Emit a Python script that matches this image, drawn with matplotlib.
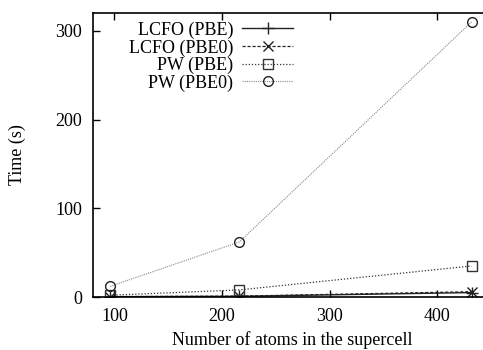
import matplotlib
matplotlib.use('Agg')
import matplotlib.pyplot as plt

plt.rcParams['font.family'] = ['Liberation Serif', 'DejaVu Serif']
plt.rcParams['font.size'] = 13

atoms = [96, 216, 432]
lcfo_pbe = [0.3, 0.8, 5]
lcfo_pbe0 = [0.5, 1.0, 6]
pw_pbe = [2, 8, 35]
pw_pbe0 = [12, 62, 310]

x_ticks = [100, 200, 300, 400]
y_ticks = [0, 100, 200, 300]

fig = plt.figure(figsize=(4.83, 3.5), dpi=100)
ax = fig.add_axes([0.1925, 0.1514, 0.824, 0.8114])

ax.plot(atoms, lcfo_pbe, color='#222222', lw=1.0, ls='-', marker='+', ms=8, mew=1.0,
        label='LCFO (PBE)')
ax.plot(atoms, lcfo_pbe0, color='#222222', lw=0.9, ls=(0, (2.5, 1.5)), marker='x', ms=7, mew=1.0,
        label='LCFO (PBE0)')
ax.plot(atoms, pw_pbe, color='#333333', lw=0.9, ls=(0, (1, 1.5)), marker='s', ms=7, mew=1.0,
        mfc='none', label='PW (PBE)')
ax.plot(atoms, pw_pbe0, color='#888888', lw=0.8, ls=(0, (1, 1)), marker='o', ms=7, mew=1.0,
        mfc='none', mec='#222222', label='PW (PBE0)')

ax.set_xlim(80, 450)
ax.set_ylim(0, 320)
ax.set_xticks(x_ticks)
ax.set_yticks(y_ticks)
ax.tick_params(direction='in', top=True, right=True, length=5, width=1.0, pad=8)
for s in ax.spines.values():
    s.set_linewidth(1.2)

ax.set_xlabel('Number of atoms in the supercell', labelpad=4)
ax.set_ylabel('Time (s)', labelpad=21)

ax.legend(loc='upper right', bbox_to_anchor=(0.5025, 0.97), frameon=False, markerfirst=False,
          fontsize=13, handlelength=2.8, handletextpad=0.5, labelspacing=0.02,
          borderpad=0, borderaxespad=0)

fig.savefig('out.png', dpi=100)
